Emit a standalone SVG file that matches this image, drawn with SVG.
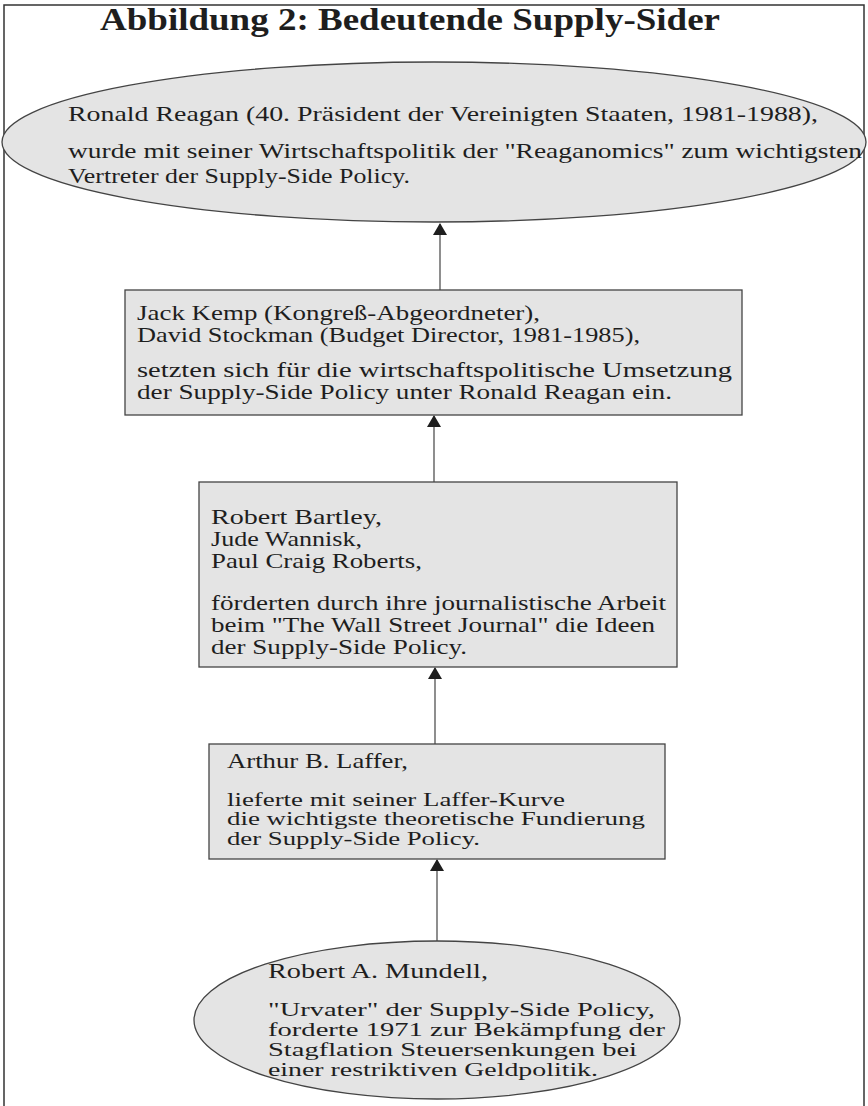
<svg xmlns="http://www.w3.org/2000/svg" width="868" height="1106" viewBox="0 0 868 1106">
<style>
  .frame { fill: #ffffff; stroke: #333333; stroke-width: 1.5; }
  .node { fill: #e4e4e4; stroke: #444444; stroke-width: 1.3; }
  .t { font-family: "Liberation Serif", "Times New Roman", serif; font-size: 21px; fill: #1e1e1e; }
  .s { font-size: 19px; }
  .title { font-family: "Liberation Serif", "Times New Roman", serif; font-size: 31px; font-weight: bold; fill: #1e1e1e; }
  .edge { stroke: #444444; stroke-width: 1.2; fill: none; marker-end: url(#arr); }
</style>
<defs>
  <marker id="arr" viewBox="0 0 12 14" refX="11" refY="7" markerWidth="12" markerHeight="14" markerUnits="userSpaceOnUse" orient="auto">
    <path d="M0,0 L12,7 L0,14 Z" fill="#1e1e1e"/>
  </marker>
</defs>
<rect x="0" y="0" width="868" height="1106" fill="#ffffff"/>
<rect class="frame" x="4" y="5" width="860" height="1110"/>
<text class="title" x="100" y="30" textLength="620" lengthAdjust="spacingAndGlyphs">Abbildung 2: Bedeutende Supply-Sider</text>

<g id="connectors">
  <line class="edge" x1="440" y1="290" x2="440" y2="224"/>
  <line class="edge" x1="434" y1="482" x2="434" y2="416"/>
  <line class="edge" x1="435" y1="744" x2="435" y2="668"/>
  <line class="edge" x1="437" y1="941" x2="437" y2="860"/>
</g>

<g id="reagan">
  <ellipse class="node" cx="434" cy="142" rx="432" ry="80"/>
  <text class="t" x="68" y="121" font-size="22" textLength="750" lengthAdjust="spacingAndGlyphs">Ronald Reagan (40. Präsident der Vereinigten Staaten, 1981-1988),</text>
  <text class="t" x="68" y="158" font-size="22" textLength="794" lengthAdjust="spacingAndGlyphs">wurde mit seiner Wirtschaftspolitik der "Reaganomics" zum wichtigsten</text>
  <text class="t" x="68" y="183" font-size="22" textLength="342" lengthAdjust="spacingAndGlyphs">Vertreter der Supply-Side Policy.</text>
</g>

<g id="kemp-stockman">
  <rect class="node" x="125" y="290" width="617" height="125"/>
  <text class="t" x="137" y="320" textLength="403" lengthAdjust="spacingAndGlyphs">Jack Kemp (Kongreß-Abgeordneter),</text>
  <text class="t" x="137" y="342" textLength="503" lengthAdjust="spacingAndGlyphs">David Stockman (Budget Director, 1981-1985),</text>
  <text class="t" x="137" y="377" textLength="595" lengthAdjust="spacingAndGlyphs">setzten sich für die wirtschaftspolitische Umsetzung</text>
  <text class="t" x="137" y="399" textLength="535" lengthAdjust="spacingAndGlyphs">der Supply-Side Policy unter Ronald Reagan ein.</text>
</g>

<g id="wsj">
  <rect class="node" x="199" y="482" width="478" height="185"/>
  <text class="t" x="211" y="524" textLength="171" lengthAdjust="spacingAndGlyphs">Robert Bartley,</text>
  <text class="t" x="211" y="546" textLength="151" lengthAdjust="spacingAndGlyphs">Jude Wannisk,</text>
  <text class="t" x="211" y="568" textLength="211" lengthAdjust="spacingAndGlyphs">Paul Craig Roberts,</text>
  <text class="t" x="211" y="610" textLength="455" lengthAdjust="spacingAndGlyphs">förderten durch ihre journalistische Arbeit</text>
  <text class="t" x="211" y="632" textLength="444" lengthAdjust="spacingAndGlyphs">beim "The Wall Street Journal" die Ideen</text>
  <text class="t" x="211" y="654" textLength="256" lengthAdjust="spacingAndGlyphs">der Supply-Side Policy.</text>
</g>

<g id="laffer">
  <rect class="node" x="209" y="744" width="456" height="115"/>
  <text class="t" x="227" y="768" textLength="181" lengthAdjust="spacingAndGlyphs">Arthur B. Laffer,</text>
  <text class="t s" x="227" y="806" textLength="338" lengthAdjust="spacingAndGlyphs">lieferte mit seiner Laffer-Kurve</text>
  <text class="t s" x="227" y="825" textLength="418" lengthAdjust="spacingAndGlyphs">die wichtigste theoretische Fundierung</text>
  <text class="t s" x="227" y="845" textLength="253" lengthAdjust="spacingAndGlyphs">der Supply-Side Policy.</text>
</g>

<g id="mundell">
  <ellipse class="node" cx="437" cy="1020" rx="243" ry="79"/>
  <text class="t" x="268" y="978" textLength="220" lengthAdjust="spacingAndGlyphs">Robert A. Mundell,</text>
  <text class="t s" x="268" y="1016" textLength="387" lengthAdjust="spacingAndGlyphs">"Urvater" der Supply-Side Policy,</text>
  <text class="t s" x="268" y="1036" textLength="397" lengthAdjust="spacingAndGlyphs">forderte 1971 zur Bekämpfung der</text>
  <text class="t s" x="268" y="1056" textLength="369" lengthAdjust="spacingAndGlyphs">Stagflation Steuersenkungen bei</text>
  <text class="t s" x="268" y="1076" textLength="330" lengthAdjust="spacingAndGlyphs">einer restriktiven Geldpolitik.</text>
</g>
</svg>
